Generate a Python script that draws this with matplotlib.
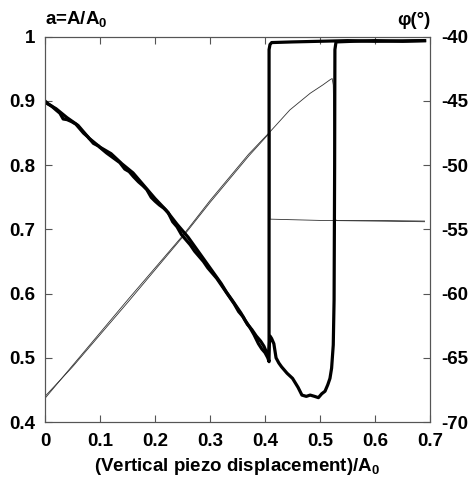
import matplotlib
matplotlib.use("Agg")
import matplotlib.pyplot as plt

plt.rcParams['font.family'] = ['Liberation Sans', 'DejaVu Sans']
plt.rcParams['font.weight'] = 'bold'
plt.rcParams['axes.labelweight'] = 'bold'
plt.rcParams['mathtext.fontset'] = 'custom'
plt.rcParams['mathtext.rm'] = 'Liberation Sans:bold'
plt.rcParams['mathtext.it'] = 'Liberation Sans:bold'
plt.rcParams['mathtext.bf'] = 'Liberation Sans:bold'

# Amplitude a = A/A0 (left axis), two thin strands
amp_x_approach = [0, 0.05, 0.1, 0.15, 0.2, 0.25, 0.3, 0.336, 0.37, 0.409, 0.445,
                  0.482, 0.505, 0.518, 0.522, 0.524, 0.5255, 0.527, 0.53, 0.6, 0.69]
amp_a_approach = [0.437, 0.488, 0.539, 0.59, 0.64, 0.69, 0.745, 0.782, 0.817, 0.852, 0.886,
                  0.912, 0.925, 0.933, 0.935, 0.925, 0.85, 0.716, 0.714, 0.714, 0.713]
amp_x_retract = [0.69, 0.6, 0.5, 0.409, 0.409, 0.37, 0.3, 0.25, 0.2, 0.15, 0.1, 0.05, 0]
amp_a_retract = [0.712, 0.713, 0.714, 0.716, 0.851, 0.814, 0.742, 0.688, 0.637, 0.586,
                 0.536, 0.486, 0.44]

# Phase phi (deg) (right axis), thick
ph_x_approach = [0, 0.005, 0.012, 0.02, 0.027, 0.033, 0.04, 0.048, 0.056, 0.064, 0.07,
                 0.078, 0.088, 0.097, 0.105, 0.112, 0.12, 0.128, 0.136, 0.145, 0.153,
                 0.161, 0.17, 0.178, 0.185, 0.193, 0.2, 0.208, 0.216, 0.224, 0.232, 0.24,
                 0.248, 0.256, 0.264, 0.272, 0.28, 0.288, 0.296, 0.304, 0.312, 0.32,
                 0.328, 0.336, 0.344, 0.352, 0.36, 0.368, 0.376, 0.384, 0.392, 0.398,
                 0.403, 0.406, 0.409, 0.412, 0.416, 0.42, 0.425, 0.43, 0.44, 0.45, 0.46,
                 0.467, 0.475, 0.482, 0.49, 0.497, 0.503, 0.509, 0.514, 0.518, 0.521,
                 0.524, 0.5255, 0.5265, 0.527, 0.529, 0.56, 0.6, 0.65, 0.69]
ph_phi_approach = [-45.0, -45.2, -45.4, -45.7, -45.95, -46.4, -46.45, -46.6, -46.8, -47.2,
                   -47.5, -47.8, -48.3, -48.5, -48.8, -49.05, -49.3, -49.55, -49.8, -50.3,
                   -50.5, -50.9, -51.3, -51.6, -51.9, -52.5, -52.8, -53.1, -53.35, -53.7,
                   -54.4, -54.8, -55.4, -55.8, -56.2, -56.7, -57.1, -57.5, -58.0, -58.4,
                   -58.8, -59.3, -59.8, -60.3, -60.8, -61.4, -61.8, -62.4, -62.8, -63.3,
                   -63.7, -64.1, -64.6, -65.0, -63.3, -63.5, -63.9, -65.0, -65.4, -65.7,
                   -66.2, -66.6, -67.3, -67.9, -68.0, -67.9, -68.0, -68.1, -67.8, -67.6,
                   -67.1, -66.6, -65.8, -64.0, -60.5, -50.0, -41.0, -40.4, -40.35, -40.3,
                   -40.35, -40.3]
ph_x_retract = [0.69, 0.6, 0.55, 0.5, 0.45, 0.412, 0.409, 0.4073, 0.4073, 0.405, 0.4,
                0.394, 0.388, 0.38, 0.372, 0.364, 0.356, 0.348, 0.34, 0.33, 0.32, 0.3,
                0.28, 0.26, 0.24, 0.22, 0.2, 0.18, 0.16, 0.14, 0.12, 0.1, 0.08, 0.06,
                0.04, 0.02, 0.0]
ph_phi_retract = [-40.3, -40.35, -40.3, -40.35, -40.4, -40.45, -40.6, -41.0, -65.3, -65.0,
                  -64.6, -64.3, -63.9, -63.2, -62.6, -62.1, -61.5, -61.0, -60.5, -59.9,
                  -59.2, -58.0, -56.8, -55.6, -54.6, -53.5, -52.6, -51.6, -50.6, -49.9,
                  -49.1, -48.6, -47.9, -46.9, -46.3, -45.6, -45.1]

fig = plt.figure(figsize=(4.69, 4.84), dpi=100)
ax = fig.add_axes([0.096, 0.128, 0.821, 0.796])
ax2 = ax.twinx()

ax.plot(amp_x_approach, amp_a_approach, color='#333333', lw=0.6)
ax.plot(amp_x_retract, amp_a_retract, color='#333333', lw=0.6)
ax2.plot(ph_x_approach, ph_phi_approach, color='black', lw=2.3, solid_joinstyle='round')
ax2.plot(ph_x_retract, ph_phi_retract, color='black', lw=2.3, solid_joinstyle='round')

ax.set_xlim(0, 0.7)
ax.set_ylim(0.4, 1.0)
ax2.set_ylim(-70, -40)

ax.set_xticks([0, 0.1, 0.2, 0.3, 0.4, 0.5, 0.6, 0.7])
ax.set_xticklabels(['0', '0.1', '0.2', '0.3', '0.4', '0.5', '0.6', '0.7'])
ax.set_yticks([0.4, 0.5, 0.6, 0.7, 0.8, 0.9, 1.0])
ax.set_yticklabels(['0.4', '0.5', '0.6', '0.7', '0.8', '0.9', '1'])
ax2.set_yticks([-70, -65, -60, -55, -50, -45, -40])
ax2.set_yticklabels(['-70', '-65', '-60', '-55', '-50', '-45', '-40'])

ax.tick_params(axis='x', direction='in', top=True, length=5, width=0.8,
               color='#555555', labelsize=13.5, pad=8)
ax.tick_params(axis='y', direction='in', length=5, width=0.8, color='#555555',
               labelsize=13.5, pad=7)
ax2.tick_params(axis='y', direction='in', length=5, width=0.8, color='#555555',
                labelsize=13.5, pad=8)
for a_ in (ax, ax2):
    for s in a_.spines.values():
        s.set_color('#555555')
        s.set_linewidth(0.8)

ax.set_xlabel(r'(Vertical piezo displacement)/A$_0$', fontsize=13.5,
              fontweight='bold', labelpad=4)
fig.text(0.096, 0.94, r'a=A/A$_0$', fontsize=13.5, fontweight='bold',
         ha='left', va='bottom')
fig.text(0.917, 0.94, 'φ(°)', fontsize=13.5, fontweight='bold',
         ha='right', va='bottom')

fig.savefig('out.png', dpi=100)
